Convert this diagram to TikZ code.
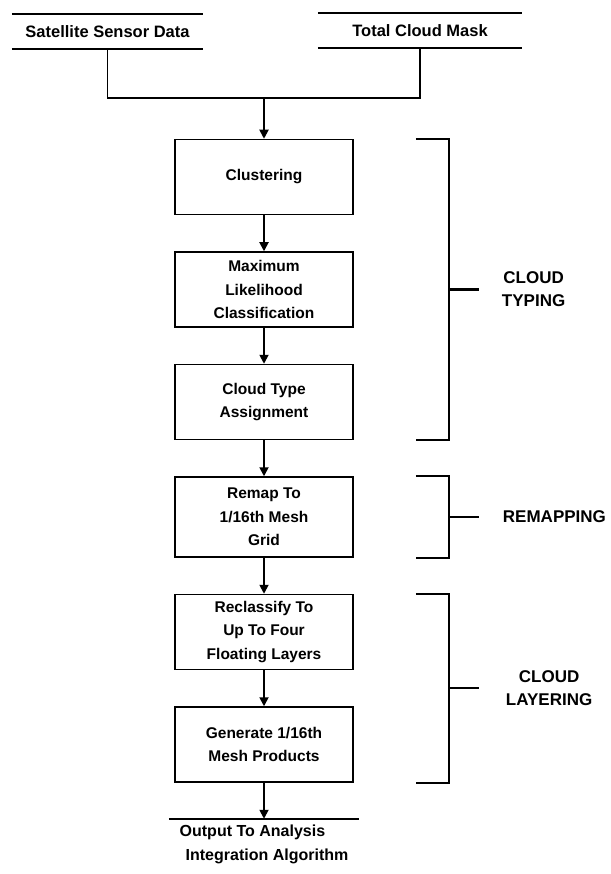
\documentclass[tikz,border=0pt]{standalone}
\usepackage{fontspec}
\setmainfont{Liberation Sans}
\usetikzlibrary{arrows.meta, positioning, calc}

\newcommand{\boxfont}{\bfseries\fontsize{15.5}{23.5}\selectfont}
\newcommand{\storefont}{\bfseries\fontsize{16.5}{24}\selectfont}
\newcommand{\phasefont}{\bfseries\fontsize{17}{23}\selectfont}

\begin{document}
\begin{tikzpicture}[
    x=1pt, y=1pt,
    node distance=36pt,
    proc/.style={rectangle, draw, line width=1.5pt, align=center, minimum width=178pt, minimum height=75pt, inner sep=2pt, font=\boxfont},
    store/.style={rectangle, align=center, minimum height=35pt, inner sep=0pt, font=\storefont},
    phase/.style={align=center, inner sep=0pt, font=\phasefont},
    arrow/.style={-{Triangle[length=9pt, width=9pt]}, line width=1.8pt},
    link/.style={line width=1.8pt},
    bracket/.style={line width=2.2pt}
]
\useasboundingbox (0,0) rectangle (610,-874);

% inputs
\node[store, minimum width=191pt] (sensor) at (107.5,-31.5) {Satellite Sensor Data};
\node[store, minimum width=204pt] (mask) at (420,-30.5) {Total Cloud Mask};
\draw[link] (sensor.north west) -- (sensor.north east);
\draw[link] (sensor.south west) -- (sensor.south east);
\draw[link] (mask.north west) -- (mask.north east);
\draw[link] (mask.south west) -- (mask.south east);
\coordinate (merge) at (264,-98);

% processing chain
\node[proc] (clus) at (264,-177) {Clustering};
\node[proc, below=of clus] (maxlike) {Maximum\\Likelihood\\Classification};
\node[proc, below=of maxlike] (ctype) {Cloud Type\\Assignment};
\node[proc, below=of ctype, minimum height=80pt] (remap) {Remap To\\1/16th Mesh\\Grid};
\node[proc, below=of remap] (reclass) {Reclassify To\\Up To Four\\Floating Layers};
\node[proc, below=of reclass] (gen) {Generate 1/16th\\Mesh Products};
\node[store, below=36pt of gen, anchor=north, minimum width=190pt, inner ysep=6pt, align=left, font=\bfseries\fontsize{16}{24}\selectfont] (out) {Output To Analysis\\\hspace{6pt}Integration Algorithm};
\draw[link] (out.north west) -- (out.north east);

\draw[link] (sensor.south) |- (merge) -| (mask.south);
\draw[arrow] (merge) -- (clus);
\draw[arrow] (clus) -- (maxlike);
\draw[arrow] (maxlike) -- (ctype);
\draw[arrow] (ctype) -- (remap);
\draw[arrow] (remap) -- (reclass);
\draw[arrow] (reclass) -- (gen);
\draw[arrow] (gen) -- (out.north);

% phase brackets
\draw[bracket] ([xshift=62pt]clus.north east) -| ([xshift=95pt]ctype.south east) -- ([xshift=62pt]ctype.south east);
\draw[bracket] ($([xshift=95pt]clus.north east)!0.5!([xshift=95pt]ctype.south east)$) -- ++(30,0) coordinate (typtick);
\node[phase, right=23pt of typtick] (typing) {CLOUD\\TYPING};

\draw[bracket] ([xshift=62pt]remap.north east) -| ([xshift=95pt]remap.south east) -- ([xshift=62pt]remap.south east);
\draw[bracket] ([xshift=95pt]remap.east) -- ++(30,0) coordinate (remtick);
\node[phase, right=24pt of remtick] (remapping) {REMAPPING};

\draw[bracket] ([xshift=62pt]reclass.north east) -| ([xshift=95pt]gen.south east) -- ([xshift=62pt]gen.south east);
\draw[bracket] ($([xshift=95pt]reclass.north east)!0.5!([xshift=95pt]gen.south east)$) -- ++(30,0) coordinate (laytick);
\node[phase, right=27pt of laytick] (layering) {CLOUD\\LAYERING};
\end{tikzpicture}
\end{document}
